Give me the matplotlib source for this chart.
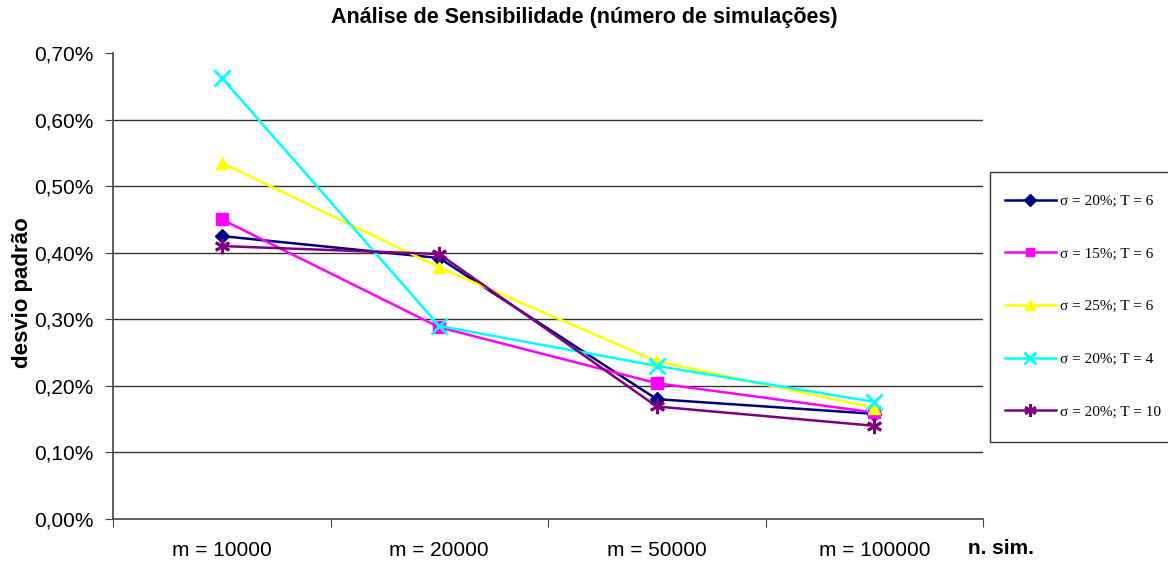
import matplotlib
matplotlib.use("Agg")
import matplotlib.pyplot as plt
from matplotlib.ticker import FuncFormatter, FixedLocator
from matplotlib.patches import Rectangle
import numpy as np

categories = ["m = 10000", "m = 20000", "m = 50000", "m = 100000"]
s20_t6 = [0.425, 0.392, 0.180, 0.158]
s15_t6 = [0.450, 0.288, 0.204, 0.160]
s25_t6 = [0.535, 0.378, 0.237, 0.167]
s20_t4 = [0.663, 0.290, 0.230, 0.176]
s20_t10 = [0.410, 0.398, 0.169, 0.140]
labels = ["σ = 20%; T = 6", "σ = 15%; T = 6", "σ = 25%; T = 6", "σ = 20%; T = 4", "σ = 20%; T = 10"]

series = [s20_t6, s15_t6, s25_t6, s20_t4, s20_t10]
colors = ["#000080", "#FF00FF", "#FFFF00", "#00FFFF", "#800080"]
markers = ["D", "s", "^", "x", (6, 2, 0)]
msizes = [7.5, 8, 9, 11, 11]

W, H = 1168, 563
fig = plt.figure(figsize=(W / 100, H / 100), dpi=100)
ax = fig.add_axes([113 / W, 1 - 519 / H, 870 / W, 466 / H])

x = np.arange(len(categories))
for vals, c, m, ms, lab in zip(series, colors, markers, msizes, labels):
    mew = 2 if m in ("x", (6, 2, 0)) else 1
    ax.plot(x, vals, color=c, marker=m, markersize=ms, linewidth=1.8,
            markeredgewidth=mew, label=lab)

ax.set_xlim(-0.5, len(categories) - 0.5)
ax.set_ylim(0, 0.70)
ax.set_yticks(np.arange(0, 0.71, 0.1))
ax.yaxis.set_major_formatter(FuncFormatter(lambda v, p: f"{v:.2f}%".replace(".", ",")))
for yv in np.arange(0.1, 0.65, 0.1):
    ax.axhline(yv, color="#333333", linewidth=1.0, zorder=0)

ax.xaxis.set_major_locator(FixedLocator(np.arange(-0.5, len(categories), 1.0)))
ax.xaxis.set_minor_locator(FixedLocator(x))
ax.set_xticklabels([""] * (len(categories) + 1))
ax.set_xticklabels(categories, minor=True)
ax.tick_params(axis="x", which="minor", length=0, pad=15.5, labelsize=15)
ax.tick_params(axis="x", which="major", length=6, direction="out", color="#444444")
ax.tick_params(axis="y", length=6, direction="out", labelsize=15, color="#444444", pad=8)
for t in ax.get_xticklabels(minor=True) + ax.get_yticklabels():
    t.set_fontfamily("Liberation Sans")

for s in ["top", "right"]:
    ax.spines[s].set_visible(False)
for s in ["left", "bottom"]:
    ax.spines[s].set_color("#444444")
    ax.spines[s].set_linewidth(1.2)

fig.text(584 / W, 1 - 18 / H, "Análise de Sensibilidade (número de simulações)",
         ha="center", va="center", fontsize=15.5, fontweight="bold",
         family="Liberation Sans")
fig.text(23 / W, 1 - 293 / H, "desvio padrão", rotation=90, ha="center", va="center",
         fontsize=16, fontweight="bold", family="Liberation Sans")
fig.text(1001 / W, 1 - 549 / H, "n. sim.", ha="center", va="center",
         fontsize=15, fontweight="bold", family="Liberation Sans")

# legend frame (extends past the right edge as in the reference)
frame = Rectangle((990 / W, 1 - 442 / H), 200 / W, 270 / H, transform=fig.transFigure,
                  facecolor="white", edgecolor="#333333", linewidth=1.0, clip_on=False,
                  zorder=1)
fig.patches.append(frame)

leg = fig.legend(loc="upper left", bbox_to_anchor=(990 / W, 1 - 179 / H),
                 bbox_transform=fig.transFigure, frameon=False,
                 prop={"family": "Liberation Serif", "size": 11},
                 handlelength=3.3, handletextpad=0.25, labelspacing=2.55,
                 borderpad=1.0, borderaxespad=0, markerscale=0.8)
leg.set_zorder(2)

fig.savefig("out.png", dpi=100)
